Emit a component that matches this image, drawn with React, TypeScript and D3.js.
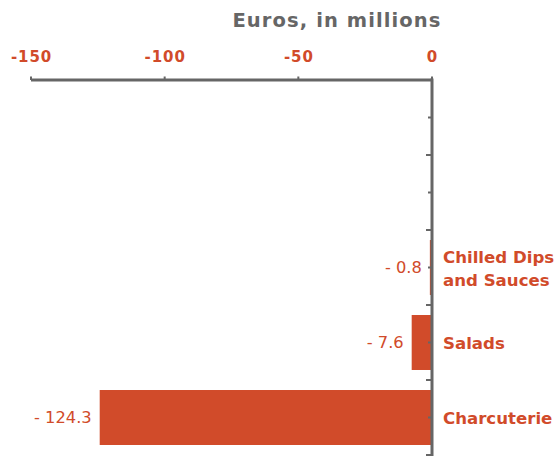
import React from "react";
import * as d3 from "d3";

const categories = ["Chilled Dips and Sauces", "Salads", "Charcuterie"];
const categoryLines = [["Chilled Dips", "and Sauces"], ["Salads"], ["Charcuterie"]];
const values = [-0.8, -7.6, -124.3];
const valueLabels = ["- 0.8", "- 7.6", "- 124.3"];
const emptySlots = ["__empty1", "__empty2"];
const xTicks = [-150, -100, -50, 0];
const title = "Euros, in millions";

const W = 559;
const H = 457;
const ORANGE = "#D14B2A";
const GRAY = "#666666";
const FONT = "'DejaVu Sans', Verdana, sans-serif";

export default function App() {
  const x = d3.scaleLinear().domain([-150, 0]).range([31, 432]);
  const slots = [...emptySlots, ...categories];
  const y = d3.scaleBand<string>().domain(slots).range([80, 455]).paddingInner(0.267).paddingOuter(0.1335);
  const step = y.step();
  const yStart = 80;
  const majorTicks = d3.range(slots.length + 1).map((i) => yStart + i * step);
  const minorTicks = slots.map((s) => (y(s) as number) + y.bandwidth() / 2);

  return (
    <svg width={W} height={H} style={{ position: "absolute", left: 0, top: 0 }} fontFamily={FONT}>
      <text x={337} y={27} textAnchor="middle" fontWeight="bold" fontSize={19.5} letterSpacing={1.1} fill={GRAY}>
        {title}
      </text>
      {xTicks.map((t) => (
        <g key={t}>
          <text x={x(t) + 0.5} y={62} textAnchor="middle" fontWeight="bold" fontSize={15} letterSpacing={0.9} fill={ORANGE}>
            {t}
          </text>
          <line x1={x(t)} x2={x(t)} y1={80} y2={76.5} stroke={GRAY} strokeWidth={2} />
        </g>
      ))}
      {categories.map((c, i) => {
        const v = values[i];
        const y0 = y(c) as number;
        const cy = y0 + y.bandwidth() / 2;
        const lines = categoryLines[i];
        const lh = 22.5;
        return (
          <g key={c}>
            <rect x={x(v)} y={y0} width={x(0) - x(v)} height={y.bandwidth()} fill={ORANGE} />
            <text x={x(v) - 8} y={cy} dy="0.35em" textAnchor="end" fontSize={16.3} fill={ORANGE}>
              {valueLabels[i]}
            </text>
            <text x={443} y={cy - ((lines.length - 1) * lh) / 2} fontWeight="bold" fontSize={16.6} fill={ORANGE}>
              {lines.map((l, j) => (
                <tspan key={j} x={443} dy={j === 0 ? "0.42em" : lh}>
                  {l}
                </tspan>
              ))}
            </text>
          </g>
        );
      })}
      {majorTicks.map((t, i) => (
        <line key={"M" + i} x1={x(0) - 6} x2={x(0)} y1={t} y2={t} stroke={GRAY} strokeWidth={2} />
      ))}
      {minorTicks.map((t, i) => (
        <line key={"m" + i} x1={x(0) - 4} x2={x(0)} y1={t} y2={t} stroke={GRAY} strokeWidth={2} />
      ))}
      <line x1={x(-150)} x2={x(0)} y1={80} y2={80} stroke={GRAY} strokeWidth={3} />
      <line x1={x(0)} x2={x(0)} y1={78.5} y2={456} stroke={GRAY} strokeWidth={3} />
    </svg>
  );
}
